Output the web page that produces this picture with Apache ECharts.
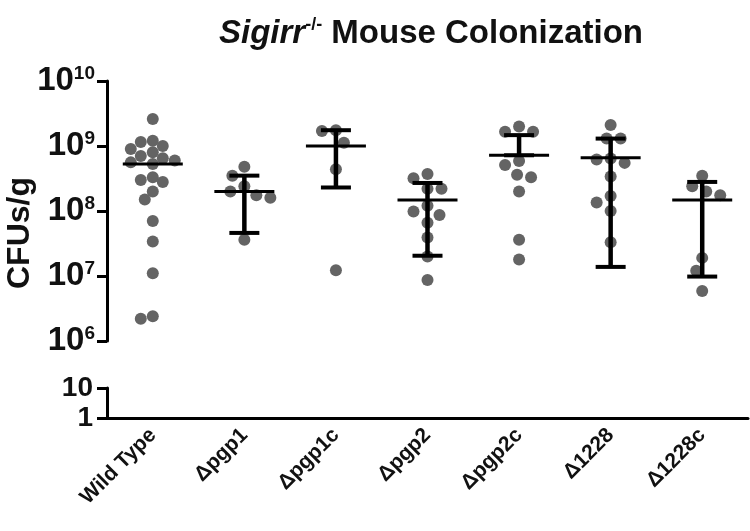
<!DOCTYPE html>
<html>
<head>
<meta charset="utf-8">
<script src="https://cdn.jsdelivr.net/npm/echarts@6/dist/echarts.min.js"></script>
<style>
  html, body { margin: 0; padding: 0; background: #fff; }
  #chart { width: 750px; height: 531px; }
</style>
</head>
<body>
<div id="chart"></div>
<script>
// groups, left to right
var categories = ['Wild Type', 'Δpgp1', 'Δpgp1c', 'Δpgp2', 'Δpgp2c', 'Δ1228', 'Δ1228c'];

// CFUs/g per mouse
var wildType = [2.6e9, 1.2e9, 1.15e9, 1.0e9, 9e8, 8e8, 7e8, 6.5e8, 6e8, 5.6e8, 5.3e8, 3.3e8, 3.0e8, 2.8e8, 2.0e8, 1.5e8, 7e7, 3.4e7, 1.1e7, 2.4e6, 2.2e6];
var pgp1 = [4.8e8, 3.5e8, 2.4e8, 2.0e8, 1.75e8, 1.6e8, 3.6e7];
var pgp1c = [1.75e9, 1.7e9, 1.12e9, 4.4e8, 1.23e7];
var pgp2 = [3.7e8, 3.2e8, 2.2e8, 2.2e8, 1.2e8, 9.8e7, 8.7e7, 6.6e7, 3.9e7, 2.0e7, 8.7e6];
var pgp2c = [2.0e9, 1.65e9, 1.65e9, 5.9e8, 5.1e8, 3.6e8, 3.3e8, 2.0e8, 3.6e7, 1.8e7];
var d1228 = [2.1e9, 1.3e9, 1.3e9, 6.4e8, 6.2e8, 5.5e8, 3.4e8, 1.7e8, 1.35e8, 1.0e8, 3.3e7];
var d1228c = [3.5e8, 2.4e8, 2.0e8, 1.75e8, 1.9e7, 1.2e7, 5.9e6];

// median and error bar ends (null = not shown)
var medians = [5.3e8, 2.0e8, 1.0e9, 1.47e8, 7.2e8, 6.6e8, 1.47e8];
var errLow = [null, 4.6e7, 2.3e8, 2.05e7, 7.2e8, 1.38e7, 9.8e6];
var errHigh = [null, 3.5e8, 1.75e9, 2.7e8, 1.47e9, 1.3e9, 2.8e8];

var groups = [wildType, pgp1, pgp1c, pgp2, pgp2c, d1228, d1228c];

var FONT = "'Liberation Sans', Arial, sans-serif";
var PX_PER_DECADE = 65.1;   // upper panel height / 4 decades
var PX_PER_CAT = 91.6;      // plot width / 7
var DOT = 12;

// simple beeswarm so dots don't sit on top of each other
function swarm(vals, gap) {
  var placed = [];
  var out = [];
  vals.forEach(function (v) {
    var py = Math.log10(v) * PX_PER_DECADE;
    var best = 0;
    for (var k = 0; k < 60; k++) {
      var off = (k % 2 ? -1 : 1) * Math.ceil(k / 2) * 2;
      var ok = placed.every(function (p) {
        var dx = p[0] - off, dy = p[1] - py;
        return dx * dx + dy * dy >= gap * gap;
      });
      if (ok) { best = off; break; }
    }
    placed.push([best, py]);
    out.push(best / PX_PER_CAT);
  });
  return out;
}

// x of group i is i + 0.5 on the hidden 0..7 axis
var dots = [];
groups.forEach(function (vals, i) {
  var offs = swarm(vals, vals.length > 15 ? DOT - 1 : DOT + 2);
  vals.forEach(function (v, j) {
    dots.push([i + 0.5 + offs[j], v]);
  });
});

var bars = categories.map(function (c, i) {
  return [i + 0.5, medians[i], errLow[i] == null ? '-' : errLow[i], errHigh[i] == null ? '-' : errHigh[i]];
});

var myChart = echarts.init(document.getElementById('chart'));

var tickStyle = { show: true, length: 10, lineStyle: { color: '#000', width: 3 } };

var option = {
  backgroundColor: '#fff',
  animation: false,
  title: {
    text: '{i|Sigirr}{s|-/-}{n| Mouse Colonization}',
    left: 214,
    top: 11,
    textStyle: {
      rich: {
        i: { fontFamily: FONT, fontSize: 33, fontWeight: 'bold', fontStyle: 'italic', color: '#111', lineHeight: 36 },
        s: { fontFamily: FONT, fontSize: 18, fontWeight: 'bold', color: '#111', verticalAlign: 'top', lineHeight: 18 },
        n: { fontFamily: FONT, fontSize: 33, fontWeight: 'bold', color: '#111', lineHeight: 36 }
      }
    }
  },
  graphic: [
    {
      type: 'text',
      x: 20,
      y: 233,
      rotation: Math.PI / 2,
      style: {
        text: 'CFUs/g',
        font: 'bold 32px ' + FONT,
        fill: '#111',
        textAlign: 'center',
        textVerticalAlign: 'middle'
      }
    }
  ],
  grid: [
    { left: 107, right: 2, top: 81, height: 260 },
    { left: 107, right: 2, top: 388, height: 30 }
  ],
  xAxis: [
    {
      gridIndex: 0,
      type: 'value',
      min: 0,
      max: 7,
      show: false
    },
    {
      gridIndex: 1,
      type: 'category',
      data: categories,
      boundaryGap: true,
      axisLine: { lineStyle: { color: '#000', width: 3 } },
      axisTick: { alignWithLabel: true, length: 8, lineStyle: { color: '#000', width: 3 } },
      axisLabel: {
        rotate: 45,
        interval: 0,
        margin: 14,
        color: '#111',
        fontFamily: FONT,
        fontWeight: 'bold',
        fontSize: 21
      }
    }
  ],
  yAxis: [
    {
      gridIndex: 0,
      type: 'log',
      logBase: 10,
      min: 1e6,
      max: 1e10,
      position: 'left',
      splitLine: { show: false },
      minorTick: { show: false },
      axisLine: { show: true, lineStyle: { color: '#000', width: 3 } },
      axisTick: tickStyle,
      axisLabel: {
        margin: 12,
        formatter: function (v) {
          return '{b|10}{s|' + Math.round(Math.log10(v)) + '}';
        },
        rich: {
          b: { fontFamily: FONT, fontSize: 33, fontWeight: 'bold', color: '#111', lineHeight: 33 },
          s: { fontFamily: FONT, fontSize: 19, fontWeight: 'bold', color: '#111', verticalAlign: 'top', lineHeight: 19 }
        }
      }
    },
    {
      gridIndex: 1,
      type: 'log',
      logBase: 10,
      min: 1,
      max: 10,
      position: 'left',
      splitLine: { show: false },
      minorTick: { show: false },
      axisLine: { show: true, lineStyle: { color: '#000', width: 3 } },
      axisTick: tickStyle,
      axisLabel: {
        margin: 14,
        showMinLabel: true,
        showMaxLabel: true,
        color: '#111',
        fontFamily: FONT,
        fontWeight: 'bold',
        fontSize: 28
      }
    }
  ],
  series: [
    {
      type: 'scatter',
      xAxisIndex: 0,
      yAxisIndex: 0,
      symbolSize: DOT,
      itemStyle: { color: '#646464', opacity: 1 },
      z: 2,
      data: dots
    },
    {
      type: 'custom',
      xAxisIndex: 0,
      yAxisIndex: 0,
      z: 3,
      clip: false,
      encode: { x: 0, y: [1, 2, 3] },
      renderItem: function (params, api) {
        var x = api.value(0);
        var mid = api.coord([x, api.value(1)]);
        var children = [
          {
            type: 'line',
            shape: { x1: mid[0] - 30, y1: mid[1], x2: mid[0] + 30, y2: mid[1] },
            style: { stroke: '#000', lineWidth: 3 }
          }
        ];
        var lo = api.value(2), hi = api.value(3);
        if (!isNaN(lo) && !isNaN(hi)) {
          var pLo = api.coord([x, lo]);
          var pHi = api.coord([x, hi]);
          children.push(
            { type: 'line', shape: { x1: mid[0], y1: pLo[1], x2: mid[0], y2: pHi[1] }, style: { stroke: '#000', lineWidth: 4.5 } },
            { type: 'line', shape: { x1: mid[0] - 15, y1: pLo[1], x2: mid[0] + 15, y2: pLo[1] }, style: { stroke: '#000', lineWidth: 4 } },
            { type: 'line', shape: { x1: mid[0] - 15, y1: pHi[1], x2: mid[0] + 15, y2: pHi[1] }, style: { stroke: '#000', lineWidth: 4 } }
          );
        }
        return { type: 'group', children: children };
      },
      data: bars
    }
  ]
};

myChart.setOption(option);
window.onresize = myChart.resize;
</script>
</body>
</html>
